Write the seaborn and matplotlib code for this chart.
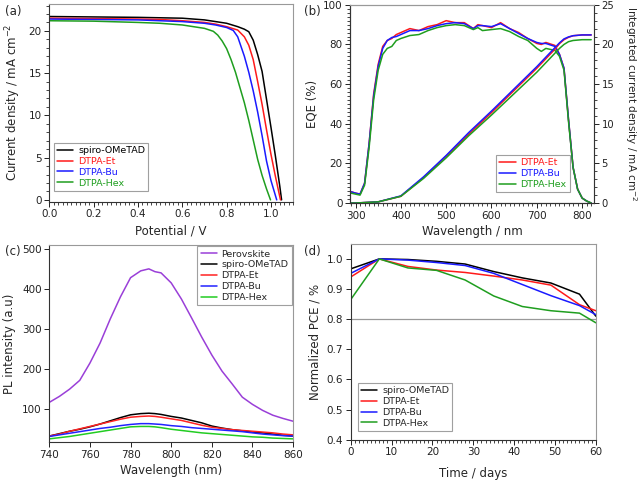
import matplotlib
matplotlib.use('Agg')
import matplotlib.pyplot as plt
from matplotlib.ticker import MultipleLocator
import seaborn as sns

# --- (a) J-V curves ---
jv_labels = ['spiro-OMeTAD', 'DTPA-Et', 'DTPA-Bu', 'DTPA-Hex']
jv_colors = ['black', '#ff1a1a', '#1a1aff', '#1f9e1f']
v_spiro = [0, 0.2, 0.4, 0.5, 0.6, 0.7, 0.75, 0.8, 0.85, 0.88, 0.9, 0.92, 0.94, 0.96, 0.98, 1.0, 1.02, 1.04, 1.048]
j_spiro = [21.7, 21.65, 21.6, 21.55, 21.5, 21.3, 21.1, 20.9, 20.5, 20.2, 19.9, 18.9, 17.2, 15.2, 11.9, 8.6, 5.2, 1.6, 0]
v_et = [0, 0.2, 0.4, 0.5, 0.6, 0.7, 0.75, 0.8, 0.85, 0.88, 0.9, 0.92, 0.94, 0.96, 0.98, 1.0, 1.02, 1.043]
j_et = [21.5, 21.45, 21.4, 21.35, 21.2, 21.0, 20.8, 20.5, 20.1, 19.3, 18.3, 16.6, 14.0, 11.3, 8.3, 5.4, 2.8, 0]
v_bu = [0, 0.2, 0.4, 0.5, 0.6, 0.7, 0.75, 0.8, 0.83, 0.85, 0.88, 0.9, 0.92, 0.94, 0.96, 0.98, 1.0, 1.026]
j_bu = [21.4, 21.35, 21.3, 21.2, 21.1, 20.9, 20.7, 20.4, 20.05, 19.3, 17.0, 15.1, 12.9, 10.4, 7.6, 4.6, 2.3, 0]
v_hex = [0, 0.2, 0.4, 0.5, 0.6, 0.65, 0.7, 0.74, 0.76, 0.78, 0.8, 0.82, 0.84, 0.86, 0.88, 0.9, 0.92, 0.94, 0.96, 0.98, 0.998]
j_hex = [21.2, 21.15, 21.0, 20.9, 20.7, 20.5, 20.3, 19.95, 19.5, 18.8, 17.9, 16.6, 15.1, 13.3, 11.5, 9.4, 7.1, 4.8, 2.9, 1.3, 0]

# --- (b) EQE and integrated current ---
eqe_labels = ['DTPA-Et', 'DTPA-Bu', 'DTPA-Hex']
eqe_colors = ['#ff1a1a', '#1a1aff', '#1f9e1f']
wl_eqe = [290, 300, 310, 320, 330, 340, 350, 360, 370, 380, 390, 400, 420, 440, 460, 480, 500, 520, 540,
          560, 570, 580, 600, 620, 640, 660, 680, 700, 710, 720, 740, 750, 760, 770, 780, 790, 800, 810, 820]
eqe_et = [5.7, 5.0, 4.5, 10, 30, 55, 70, 79, 82, 83, 85, 86, 88, 87, 89, 90, 92, 91, 91,
          88, 90, 89.5, 88.5, 91, 88, 86, 83, 80.5, 80, 81, 79.5, 75, 68, 42, 18, 7, 2.5, 1, 0]
eqe_bu = [5.7, 5.0, 4.5, 10, 30, 54, 69, 78, 82, 83.5, 84, 85, 87, 87, 88, 89.5, 90.5, 91, 90.5,
          88, 89.5, 89.5, 89, 90.5, 88, 85.5, 83, 81, 80.5, 80.5, 79, 75, 68, 42, 18, 7, 2.5, 1, 0]
eqe_hex = [5.0, 4.5, 4.0, 9, 28, 52, 67, 75, 78, 79, 82, 83, 84.5, 85, 87, 88.5, 89.5, 90, 89.5,
           87.5, 88.5, 87, 87.5, 88, 86.5, 84, 82, 78, 76.5, 78, 77, 74, 67, 41, 18, 7, 2.5, 1, 0]
wl_int = [290, 300, 350, 400, 450, 500, 550, 600, 650, 700, 720, 740, 750, 760, 770, 780, 800, 820]
int_et = [0, 0, 0.15, 0.85, 3.2, 5.9, 8.7, 11.4, 14.2, 17.0, 18.2, 19.4, 20.1, 20.6, 20.9, 21.1, 21.2, 21.2]
int_bu = [0, 0, 0.15, 0.9, 3.3, 6.0, 8.9, 11.6, 14.4, 17.2, 18.4, 19.6, 20.2, 20.7, 20.95, 21.1, 21.2, 21.2]
int_hex = [0, 0, 0.15, 0.85, 3.1, 5.7, 8.5, 11.1, 13.8, 16.5, 17.7, 18.9, 19.5, 20.0, 20.35, 20.5, 20.6, 20.6]

# --- (c) PL spectra ---
pl_labels = ['Perovskite', 'spiro-OMeTAD', 'DTPA-Et', 'DTPA-Bu', 'DTPA-Hex']
pl_colors = ['#9a3fd8', 'black', '#ff2222', '#2222ff', '#22cc22']
wl_pl = [740, 745, 750, 755, 760, 765, 770, 775, 780, 785, 789, 792, 795, 800, 805, 810, 815, 820,
         825, 830, 835, 840, 845, 850, 855, 860]
pl_pero = [117, 132, 150, 172, 215, 265, 325, 380, 428, 445, 450, 443, 440, 415, 375, 328, 280, 235,
           195, 163, 130, 112, 97, 85, 77, 70]
pl_spiro = [33, 39, 45, 50, 56, 63, 71, 79, 86, 89, 90, 89, 87, 82, 78, 72, 66, 58,
            53, 49, 46, 43, 41, 38, 35, 33]
pl_et = [33, 38, 45, 51, 57, 63, 69, 75, 80, 82, 83, 82, 80, 76, 72, 66, 60, 55,
         52, 49, 47, 45, 43, 41, 38, 36]
pl_bu = [32, 36, 40, 44, 48, 52, 55, 59, 62, 64, 64, 63, 62, 59, 57, 54, 52, 50,
         48, 46, 44, 41, 38, 36, 34, 33]
pl_hex = [26, 29, 32, 36, 40, 44, 48, 52, 56, 57, 57, 56, 54, 50, 47, 44, 41, 39,
          37, 35, 33, 31, 30, 28, 27, 26]

# --- (d) stability ---
st_labels = ['spiro-OMeTAD', 'DTPA-Et', 'DTPA-Bu', 'DTPA-Hex']
st_colors = ['black', '#ff1a1a', '#1a1aff', '#1f9e1f']
days = [0, 7, 14, 21, 28, 35, 42, 49, 56, 60]
pce_spiro = [0.967, 1.0, 0.998, 0.992, 0.983, 0.958, 0.937, 0.92, 0.883, 0.81]
pce_et = [0.94, 1.0, 0.975, 0.963, 0.955, 0.943, 0.93, 0.913, 0.848, 0.828]
pce_bu = [0.952, 1.0, 0.996, 0.988, 0.978, 0.952, 0.915, 0.878, 0.845, 0.815]
pce_hex = [0.865, 1.0, 0.97, 0.962, 0.93, 0.877, 0.842, 0.828, 0.82, 0.788]

sns.set_style('ticks')
plt.rcParams['font.family'] = ['DejaVu Sans']
plt.rcParams['xtick.labelsize'] = 7.5
plt.rcParams['ytick.labelsize'] = 7.5
plt.rcParams['axes.labelsize'] = 8.5
plt.rcParams['xtick.major.size'] = 3.5
plt.rcParams['ytick.major.size'] = 3.5
plt.rcParams['xtick.minor.size'] = 2
plt.rcParams['ytick.minor.size'] = 2
plt.rcParams['xtick.major.width'] = 0.7
plt.rcParams['ytick.major.width'] = 0.7
plt.rcParams['xtick.minor.width'] = 0.6
plt.rcParams['ytick.minor.width'] = 0.6

fig = plt.figure(figsize=(6.4, 4.8), dpi=100)
ax_a = fig.add_axes([0.077, 0.580, 0.381, 0.412])
ax_b = fig.add_axes([0.547, 0.577, 0.381, 0.413])
ax_c = fig.add_axes([0.077, 0.079, 0.381, 0.411])
ax_d = fig.add_axes([0.548, 0.084, 0.383, 0.408])


def frame(ax):
    for s in ['left', 'bottom']:
        ax.spines[s].set_color('#333333')
        ax.spines[s].set_linewidth(0.8)
    for s in ['top', 'right']:
        ax.spines[s].set_color('#999999')
        ax.spines[s].set_linewidth(0.8)
    ax.tick_params(colors='#222222', pad=2)
    ax.tick_params(which='both', direction='out')


def legend(ax, loc, color_text=False, **kw):
    leg = ax.legend(loc=loc, fontsize=6.8, frameon=True, fancybox=False,
                    handlelength=1.7, borderpad=0.35, labelspacing=0.2,
                    handletextpad=0.5, **kw)
    leg.get_frame().set_edgecolor('#888888')
    leg.get_frame().set_linewidth(0.8)
    if color_text:
        for txt, line in zip(leg.get_texts(), leg.get_lines()):
            txt.set_color(line.get_color())
    return leg


# (a)
jv_v = [v_spiro, v_et, v_bu, v_hex]
jv_j = [j_spiro, j_et, j_bu, j_hex]
for v, j, lab, c in zip(jv_v, jv_j, jv_labels, jv_colors):
    sns.lineplot(x=v, y=j, ax=ax_a, color=c, lw=1.1, label=lab, sort=False)
ax_a.set_xlim(0, 1.1)
ax_a.set_ylim(-0.2, 23.2)
ax_a.xaxis.set_major_locator(MultipleLocator(0.2))
ax_a.xaxis.set_minor_locator(MultipleLocator(0.02))
ax_a.yaxis.set_major_locator(MultipleLocator(5))
ax_a.yaxis.set_minor_locator(MultipleLocator(1))
ax_a.set_xlabel('Potential / V', labelpad=4)
ax_a.set_ylabel('Current density / mA cm$^{-2}$', labelpad=4)
frame(ax_a)
legend(ax_a, 'lower left', color_text=True, bbox_to_anchor=(0.0, 0.03))

# (b)
ax_b2 = ax_b.twinx()
for e, lab, c in zip([eqe_et, eqe_bu, eqe_hex], eqe_labels, eqe_colors):
    sns.lineplot(x=wl_eqe, y=e, ax=ax_b, color=c, lw=1.1, label=lab)
for s, c in zip([int_et, int_bu, int_hex], eqe_colors):
    sns.lineplot(x=wl_int, y=s, ax=ax_b2, color=c, lw=1.1)
ax_b.set_xlim(288, 826)
ax_b.set_ylim(0, 100)
ax_b2.set_ylim(0, 25)
ax_b.xaxis.set_major_locator(MultipleLocator(100))
ax_b.xaxis.set_minor_locator(MultipleLocator(10))
ax_b.yaxis.set_major_locator(MultipleLocator(20))
ax_b.yaxis.set_minor_locator(MultipleLocator(2))
ax_b2.yaxis.set_major_locator(MultipleLocator(5))
ax_b2.yaxis.set_minor_locator(MultipleLocator(1))
ax_b.set_xlabel('Wavelength / nm', labelpad=3)
ax_b.set_ylabel('EQE (%)', labelpad=3)
ax_b2.set_ylabel('Integrated current density / mA cm$^{-2}$', rotation=270,
                 fontsize=7.5, va='center', ha='center')
ax_b2.yaxis.set_label_coords(1.15, 0.5)
frame(ax_b)
frame(ax_b2)
ax_b2.tick_params(axis='y', labelsize=7.2)
ax_b2.spines['right'].set_color('#333333')
legend(ax_b, 'lower right', color_text=True, bbox_to_anchor=(0.92, 0.03))

# (c)
pl_sets = [pl_pero, pl_spiro, pl_et, pl_bu, pl_hex]
for p, lab, c in zip(pl_sets, pl_labels, pl_colors):
    sns.lineplot(x=wl_pl, y=p, ax=ax_c, color=c, lw=1.1, label=lab)
ax_c.set_xlim(740, 860)
ax_c.set_ylim(18, 510)
ax_c.xaxis.set_major_locator(MultipleLocator(20))
ax_c.yaxis.set_major_locator(MultipleLocator(100))
ax_c.set_xlabel('Wavelength (nm)', labelpad=3)
ax_c.set_ylabel('PL intensity (a.u)', labelpad=4)
frame(ax_c)
legend(ax_c, 'upper right', borderaxespad=0.15)

# (d)
ax_d.axhline(0.8, color='#999999', lw=0.9)
for p, lab, c in zip([pce_spiro, pce_et, pce_bu, pce_hex], st_labels, st_colors):
    sns.lineplot(x=days, y=p, ax=ax_d, color=c, lw=1.1, label=lab)
ax_d.set_xlim(0, 60)
ax_d.set_ylim(0.4, 1.05)
ax_d.xaxis.set_major_locator(MultipleLocator(10))
ax_d.xaxis.set_minor_locator(MultipleLocator(1))
ax_d.yaxis.set_major_locator(MultipleLocator(0.1))
ax_d.set_xlabel('Time / days', labelpad=7)
ax_d.set_ylabel('Normalized PCE / %', labelpad=4)
frame(ax_d)
legend(ax_d, 'lower left', bbox_to_anchor=(0.01, 0.02))

for x, y, t in [(0.008, 0.99, '(a)'), (0.475, 0.99, '(b)'), (0.008, 0.49, '(c)'), (0.475, 0.49, '(d)')]:
    fig.text(x, y, t, fontsize=8.5, va='top', ha='left')

plt.savefig('out.png', dpi=100)
